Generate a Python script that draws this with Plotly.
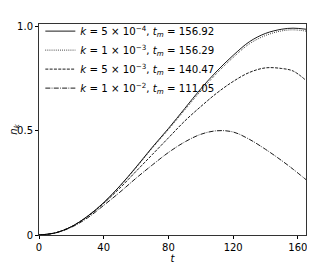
import plotly.graph_objects as go

t = [0, 10, 20, 30, 40, 50, 60, 70, 80, 90, 100, 110, 120, 130, 140, 150, 157, 165]
n_k5e4 = [0, 0.01, 0.04, 0.09, 0.155, 0.235, 0.325, 0.42, 0.51, 0.605, 0.70, 0.785, 0.86, 0.925, 0.965, 0.985, 0.99, 0.985]
n_k1e3 = [0, 0.01, 0.04, 0.09, 0.155, 0.234, 0.322, 0.416, 0.505, 0.598, 0.69, 0.775, 0.85, 0.915, 0.955, 0.977, 0.982, 0.976]
n_k5e3 = [0, 0.01, 0.04, 0.088, 0.152, 0.225, 0.305, 0.385, 0.465, 0.545, 0.615, 0.68, 0.735, 0.778, 0.80, 0.797, 0.785, 0.74]
n_k1e2 = [0, 0.01, 0.037, 0.082, 0.142, 0.205, 0.272, 0.335, 0.395, 0.445, 0.482, 0.499, 0.493, 0.458, 0.41, 0.356, 0.315, 0.265]

labels = [
    "<i>k</i> = 5 × 10<sup>−4</sup>, <i>t<sub>m</sub></i> = 156.92",
    "<i>k</i> = 1 × 10<sup>−3</sup>, <i>t<sub>m</sub></i> = 156.29",
    "<i>k</i> = 5 × 10<sup>−3</sup>, <i>t<sub>m</sub></i> = 140.47",
    "<i>k</i> = 1 × 10<sup>−2</sup>, <i>t<sub>m</sub></i> = 111.05",
]
series = [n_k5e4, n_k1e3, n_k5e3, n_k1e2]
dashes = ["solid", "0.8px,1.3px", "3px,1.3px", "5px,1.3px,0.8px,1.3px"]

fig = go.Figure()
for y, lab, d in zip(series, labels, dashes):
    fig.add_trace(go.Scatter(x=t, y=y, mode="lines", name=lab, line_shape="spline",
                             line=dict(color="black", width=0.9, dash=d)))

font = dict(family="DejaVu Sans", size=10, color="black")
fig.update_layout(
    width=307, height=262,
    margin=dict(l=31, r=9, t=9, b=35),
    plot_bgcolor="white", paper_bgcolor="white",
    font=font,
    showlegend=True,
    legend=dict(x=0.005, y=1.035, xanchor="left", yanchor="top", bgcolor="rgba(0,0,0,0)",
                font=dict(family="DejaVu Sans", size=10.2, color="black"),
                tracegroupgap=0, itemwidth=30),
)
fig.update_xaxes(range=[0, 165], tickvals=[0, 40, 80, 120, 160], ticks="outside", ticklen=3,
                 tickcolor="black", showline=True, linecolor="#333", linewidth=1, mirror=True,
                 showgrid=False, zeroline=False, automargin=False,
                 title=dict(text="<i>t</i>", standoff=1, font=font))
fig.update_yaxes(range=[0, 1.01], tickvals=[0, 0.5, 1.0], ticktext=["0", "0.5", "1.0"],
                 ticks="outside", ticklen=3, tickcolor="black",
                 showline=True, linecolor="#333", linewidth=1, mirror=True,
                 showgrid=False, zeroline=False, automargin=False,
                 title=dict(text="<i>n<sub>k</sub></i>", standoff=10, font=font))

fig.write_html("out.html")
